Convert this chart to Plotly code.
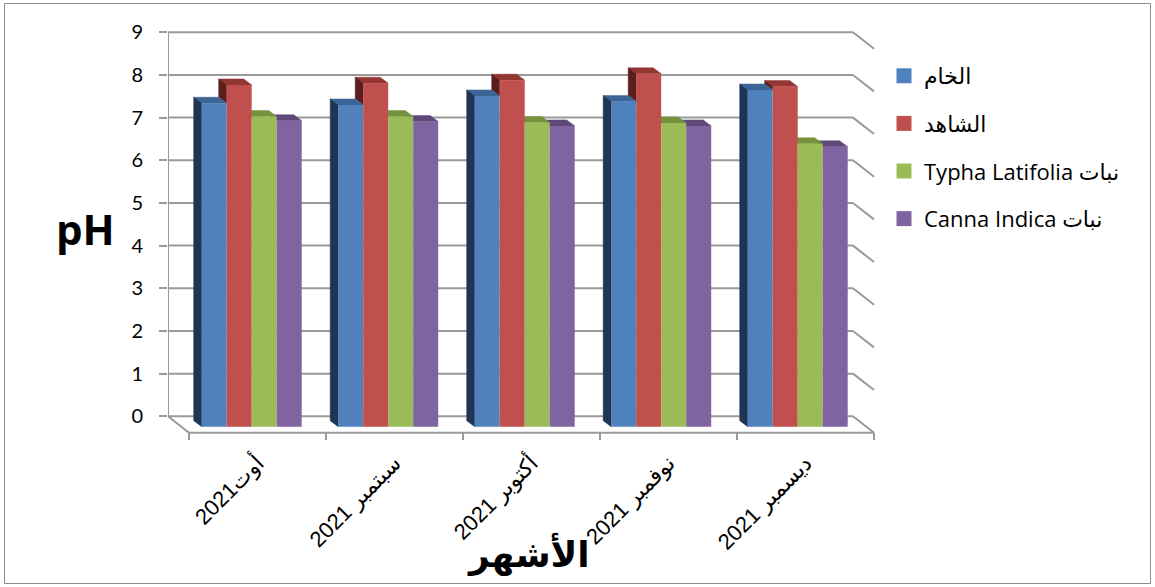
import plotly.graph_objects as go

# ---- data -------------------------------------------------------------
months = ["أوت2021", "سبتمبر 2021", "أكتوبر 2021", "نوفمبر 2021", "ديسمبر 2021"]
series_names = [
    "الخام",
    "الشاهد",
    "\u202bنبات Typha Latifolia\u202c",
    "\u202bنبات Canna Indica\u202c",
]
ph_raw = [7.58, 7.54, 7.75, 7.62, 7.89]
ph_control = [8.01, 8.05, 8.12, 8.27, 7.97]
ph_typha = [7.27, 7.27, 7.13, 7.12, 6.63]
ph_canna = [7.17, 7.15, 7.05, 7.05, 6.56]
y_ticks = [0, 1, 2, 3, 4, 5, 6, 7, 8, 9]

series_values = [ph_raw, ph_control, ph_typha, ph_canna]

# ---- styling ----------------------------------------------------------
front_colors = ["#4F81BD", "#C0504D", "#9BBB59", "#8064A2"]
top_colors = ["#3B6497", "#943634", "#76923C", "#5F497A"]
side_colors = ["#1F3553", "#5A1E1D", "#4A5E25", "#3C2F4F"]
grid_color = "#9A9A9A"

W, H = 1155, 587
PLOT_L, PLOT_R, PLOT_T, PLOT_B = 168, 880, 20, 445
CAT_X0, CAT_PX = 251.7, 136.5          # first group centre, pixels per category
WALL_Y0, BAR_Y0, UNIT_PX = 416.3, 426.7, 42.67  # wall zero, bar-base zero, px per pH unit


def xd(px):
    return (px - CAT_X0) / CAT_PX


def wall_y(py):
    return (WALL_Y0 - py) / UNIT_PX


def bar_y(py):
    return (BAR_Y0 - py) / UNIT_PX


def paper_x(px):
    return (px - PLOT_L) / (PLOT_R - PLOT_L)


def paper_y(py):
    return (PLOT_B - py) / (PLOT_B - PLOT_T)


n_ser = len(series_values)
BAR_W = 25 / CAT_PX
GROUP_W = n_ser * BAR_W
DEPTH_DX = 8 / CAT_PX
DEPTH_DY = 6 / UNIT_PX

fig = go.Figure()

# ---- 3-D side and top faces (painted right-to-left) ------------------
for j in reversed(range(n_ser)):
    vals = series_values[j]
    tx, ty, sx, sy = [], [], [], []
    for i, v in enumerate(vals):
        x0 = i - GROUP_W / 2 + j * BAR_W
        # top face
        tx += [x0, x0 + BAR_W, x0 + BAR_W - DEPTH_DX, x0 - DEPTH_DX, x0, None]
        ty += [v, v, v + DEPTH_DY, v + DEPTH_DY, v, None]
        # left face, only the part above the neighbouring bar
        base = 0 if j == 0 else series_values[j - 1][i]
        if v > base:
            sx += [x0, x0, x0 - DEPTH_DX, x0 - DEPTH_DX, x0, None]
            sy += [base, v, v + DEPTH_DY, base + DEPTH_DY, base, None]
    fig.add_trace(go.Scatter(x=tx, y=ty, fill="toself", fillcolor=top_colors[j],
                             mode="lines", line=dict(width=0.5, color=top_colors[j]),
                             xaxis="x", yaxis="y2", hoverinfo="skip", showlegend=False))
    if sx:
        fig.add_trace(go.Scatter(x=sx, y=sy, fill="toself", fillcolor=side_colors[j],
                                 mode="lines", line=dict(width=0.5, color=side_colors[j]),
                                 xaxis="x", yaxis="y2", hoverinfo="skip", showlegend=False))

# ---- front faces ------------------------------------------------------
for j in range(n_ser):
    fig.add_trace(go.Bar(x=list(range(len(months))), y=series_values[j],
                         marker=dict(color=front_colors[j], line=dict(width=0)),
                         name=series_names[j], xaxis="x", yaxis="y3", showlegend=False))

# ---- legend entries ---------------------------------------------------
for j in range(n_ser):
    fig.add_trace(go.Scatter(x=[None], y=[None], mode="markers", name=series_names[j],
                             marker=dict(symbol="square", size=15, color=front_colors[j]),
                             legendgroup=f"s{j}", xaxis="x", yaxis="y"))

# ---- walls and floor --------------------------------------------------
shapes = []
wl, wr = xd(168), xd(853)
ddx, ddy = 21 / CAT_PX, 16.4 / UNIT_PX
line = dict(color=grid_color, width=2)
for k in y_ticks:
    shapes.append(dict(type="line", xref="x", yref="y", x0=wl, x1=wr, y0=k, y1=k,
                       line=line, layer="below"))
    shapes.append(dict(type="line", xref="x", yref="y", x0=wr, x1=wr + ddx, y0=k, y1=k - ddy,
                       line=line, layer="below"))
shapes.append(dict(type="line", xref="x", yref="y", x0=wl, x1=wl, y0=0, y1=y_ticks[-1],
                   line=line, layer="below"))
shapes.append(dict(type="line", xref="x", yref="y", x0=wl, x1=wl + ddx, y0=0, y1=-ddy,
                   line=line, layer="below"))
front_l = wl + ddx
slot = (wr - wl) / len(months)
shapes.append(dict(type="line", xref="x", yref="y", x0=front_l, x1=wr + ddx, y0=-ddy, y1=-ddy,
                   line=line, layer="below"))
for k in range(len(months) + 1):
    xt = front_l + k * slot
    shapes.append(dict(type="line", xref="x", yref="y", x0=xt, x1=xt, y0=-ddy,
                       y1=wall_y(440), line=line, layer="below"))
# outer frame
shapes.append(dict(type="rect", xref="paper", yref="paper",
                   x0=paper_x(4.5), x1=paper_x(1150.5), y0=paper_y(583.5), y1=paper_y(3.5),
                   line=dict(color="#8C8C8C", width=1)))

label_pos = [front_l + (i + 0.5) * slot for i in range(len(months))]

fig.update_layout(
    width=W, height=H,
    margin=dict(l=PLOT_L, r=W - PLOT_R, t=PLOT_T, b=H - PLOT_B, autoexpand=False),
    paper_bgcolor="white", plot_bgcolor="rgba(0,0,0,0)",
    barmode="group", bargap=1 - GROUP_W, bargroupgap=0,
    shapes=shapes,
    xaxis=dict(range=[xd(PLOT_L), xd(PLOT_R)], automargin=False,
               tickvals=label_pos, ticktext=months,
               tickangle=-45, showgrid=False, zeroline=False, showline=False, ticks="",
               tickfont=dict(family="Liberation Sans, Arial, DejaVu Sans", size=22, color="black")),
    yaxis=dict(range=[wall_y(PLOT_B), wall_y(PLOT_T)], tickvals=y_ticks, automargin=False,
               ticks="outside", ticklen=8, tickcolor=grid_color, tickwidth=2,
               showgrid=False, zeroline=False, showline=False, ticklabelstandoff=12,
               tickfont=dict(family="Lato, Open Sans", size=20, color="black")),
    yaxis2=dict(range=[bar_y(PLOT_B), bar_y(PLOT_T)], overlaying="y", visible=False),
    yaxis3=dict(range=[bar_y(PLOT_B), bar_y(PLOT_T)], overlaying="y", visible=False),
    legend=dict(xref="container", yref="container", x=884 / W, y=1 - 55 / H,
                xanchor="left", yanchor="top", bgcolor="rgba(0,0,0,0)",
                font=dict(family="Open Sans, DejaVu Sans", size=22, color="black"),
                tracegroupgap=16),
    annotations=[
        dict(text="<b>pH</b>", xref="paper", yref="paper", x=paper_x(85), y=paper_y(228),
             showarrow=False, xanchor="center", yanchor="middle",
             font=dict(family="Open Sans", size=42, color="black")),
        dict(text="<b>الأشهر</b>", xref="paper", yref="paper", x=paper_x(528), y=paper_y(554),
             showarrow=False, xanchor="center", yanchor="middle",
             font=dict(family="DejaVu Sans", size=36, color="black")),
    ],
)

fig.write_html("out.html")
